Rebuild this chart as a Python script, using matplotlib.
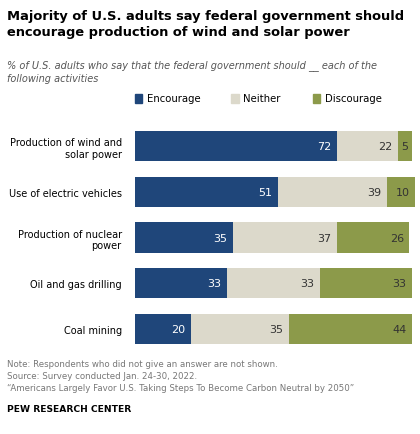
import matplotlib.pyplot as plt

categories = ["Production of wind and\nsolar power", "Use of electric vehicles",
              "Production of nuclear\npower", "Oil and gas drilling", "Coal mining"]
encourage = [72, 51, 35, 33, 20]
neither = [22, 39, 37, 33, 35]
discourage = [5, 10, 26, 33, 44]

colors = ["#1f467a", "#dcd9cb", "#8c9a4a"]
labels = ["Encourage", "Neither", "Discourage"]

fig = plt.figure(figsize=(4.2, 4.35), dpi=100)
ax = fig.add_axes([0.321, 0.178, 0.667, 0.547])

y = range(len(categories))
left = [0] * len(categories)
for vals, c, lab in zip([encourage, neither, discourage], colors, labels):
    ax.barh(y, vals, left=left, color=c, height=0.66, label=lab)
    for i, v in enumerate(vals):
        ax.text(left[i] + v - 2 if v > 6 else left[i] + v / 2, i, str(v),
                ha="right" if v > 6 else "center", va="center", fontsize=8,
                color="white" if c == colors[0] else "#333333")
    left = [a + b for a, b in zip(left, vals)]

ax.set_xlim(0, 100)
ax.set_ylim(4.6, -0.6)
ax.set_yticks(list(y))
ax.set_yticklabels(categories, fontsize=7)
ax.tick_params(left=False, bottom=False, labelbottom=False, pad=6)
for s in ax.spines.values():
    s.set_visible(False)

# legend
lx = [0.321, 0.55, 0.745]
for x, c, lab in zip(lx, colors, labels):
    fig.patches.append(plt.Rectangle((x, 0.762), 0.018, 0.02, transform=fig.transFigure,
                                     color=c))
    fig.text(x + 0.028, 0.772, lab, fontsize=7.3, va="center")

fig.text(0.017, 0.978, "Majority of U.S. adults say federal government should\n"
         "encourage production of wind and solar power",
         fontsize=9.4, fontweight="bold", va="top", linespacing=1.3)
fig.text(0.017, 0.862, "% of U.S. adults who say that the federal government should __ each of the\n"
         "following activities", fontsize=7, style="italic", color="#555555",
         va="top", linespacing=1.35)

fig.text(0.017, 0.172, "Note: Respondents who did not give an answer are not shown.\n"
         "Source: Survey conducted Jan. 24-30, 2022.\n"
         "\u201cAmericans Largely Favor U.S. Taking Steps To Become Carbon Neutral by 2050\u201d",
         fontsize=6.2, color="#777777", va="top", linespacing=1.45)
fig.text(0.017, 0.058, "PEW RESEARCH CENTER", fontsize=6.6, fontweight="bold", va="center")

fig.savefig("out.png", dpi=100)
